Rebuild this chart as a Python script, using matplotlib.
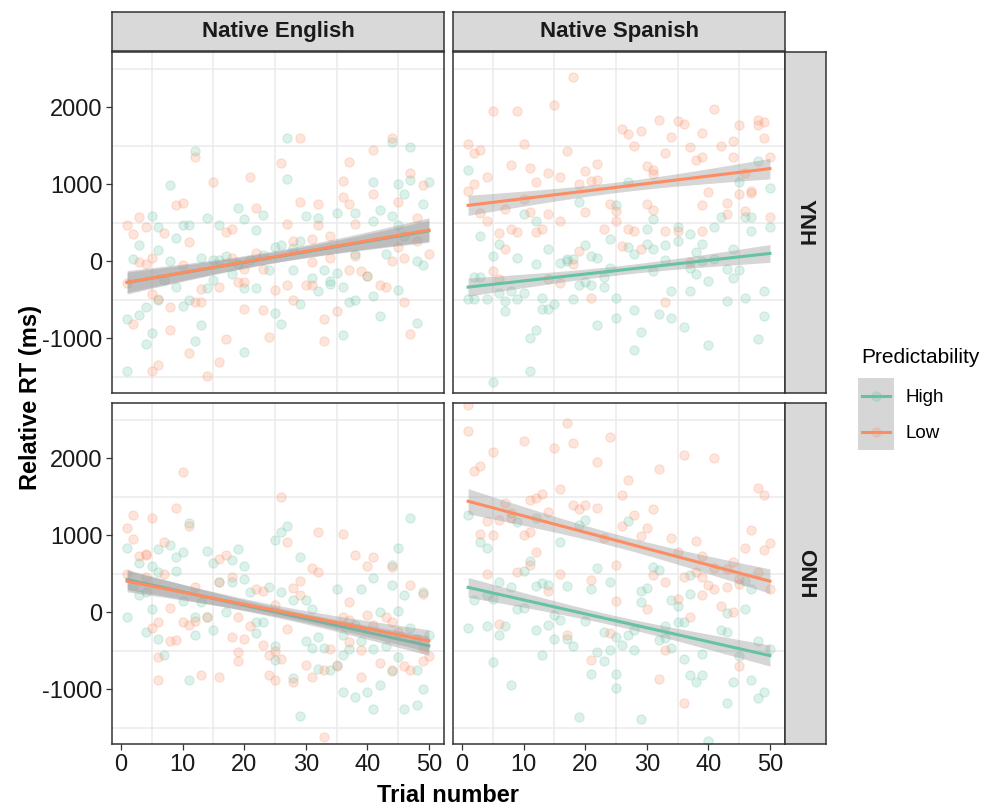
import numpy as np
import matplotlib
matplotlib.use("Agg")
import matplotlib.pyplot as plt

plt.rcParams['font.family'] = 'Liberation Sans'
plt.rcParams['axes.unicode_minus'] = False

# ---- data (trial, relative RT in ms) ----
columns = ['Native English', 'Native Spanish']
rows = ['YNH', 'ONH']
conditions = ['High', 'Low']
colors = {'High': '#66C2A5', 'Low': '#FC8D62'}

en_ynh_high_t = [12, 8, 5, 6, 10, 11, 14, 19, 20, 23, 22, 16, 3, 6, 9, 2, 8, 13, 15, 16, 17, 19, 25, 26, 21, 23, 24, 18,
                 15, 14, 9, 7, 6, 11, 10, 4, 3, 1, 5, 4, 13, 12, 20, 25, 26, 22, 20, 1,
                 27, 44, 47, 27, 41, 45, 47, 50, 46, 49, 30, 32, 35, 38, 42, 41, 44, 45, 29, 28, 46, 43, 48, 49, 38,
                 33, 35, 28, 31, 34, 34, 32, 36, 40, 45, 41, 38, 37, 29, 42, 48, 36]
en_ynh_high_rt = [1430, 990, 590, 445, 467, 467, 566, 688, 545, 605, 402, 471, 207, 142, 307, 25, 3, 42, 12, 12, 68, -31,
                  185, 207, 21, 77, -118, -161, -239, -352, -334, -248, -508, -508, -577, -594, -694, -750, -932,
                  -1070, -832, -1036, -1179, -672, -819, -352, -352, -1430,
                  1601, 1545, 1484, 1069, 1025, 1008, 1051, 1025, 869, 748, 588, 566, 627, 627, 670, 523, 588, 467,
                  263, 172, 333, 90, 3, -53, 90, -109, -152, -109, -213, -291, -256, -391, -334, -196, -369, -456,
                  -508, -529, -551, -711, -798, -953]

en_ynh_low_t = [12, 15, 21, 26, 9, 10, 3, 1, 4, 2, 7, 11, 17, 18, 22, 3, 4, 5, 10, 18, 22, 1, 5, 6, 8, 12, 13, 13, 16,
                19, 20, 25, 20, 23, 2, 8, 17, 24, 11, 16, 14, 6, 5, 23, 20,
                29, 44, 41, 37, 36, 47, 49, 41, 36, 37, 29, 32, 45, 48, 27, 32, 38, 34, 31, 28, 48, 50, 45, 46, 44,
                34, 38, 31, 39, 40, 37, 30, 31, 27, 42, 43, 28, 46, 35, 33, 33, 47]
en_ynh_low_rt = [1360, 1030, 1100, 1280, 730, 760, 570, 470, 450, 350, 370, 250, 380, 420, 690, -10, -30, 50, -50, 50,
                 110, -280, -430, -490, -590, -530, -530, -360, -330, -270, -270, -370, -620, -630, -820, -890,
                 -1010, -980, -1190, -1310, -1490, -1350, -1430, -100, -100,
                 1600, 1600, 1450, 1290, 1050, 1150, 990, 870, 830, 750, 770, 750, 770, 560, 490, 470, 490, 330, 290,
                 260, 260, 90, 190, 50, 0, 50, 70, -10, -120, -190, -110, -310, -310, -310, -310, -330, -500, -530,
                 -650, -750, -1040, -950]

es_ynh_high_t = [1, 10, 12, 19, 25, 3, 6, 5, 9, 12, 14, 16, 17, 17, 18, 20, 21, 22, 24, 24, 23, 23, 2, 3, 1, 2, 4, 6,
                 7, 8, 9, 10, 7, 13, 13, 14, 15, 18, 19, 20, 21, 11, 12, 22, 25, 25, 11, 5,
                 48, 27, 45, 50, 31, 30, 35, 37, 41, 42, 46, 47, 47, 50, 27, 28, 30, 31, 33, 35, 39, 38, 39, 41, 44,
                 33, 31, 37, 38, 40, 43, 44, 45, 34, 37, 43, 46, 49, 28, 32, 34, 49, 29, 36, 28, 40, 48]
es_ynh_high_rt = [1190, 610, 520, 770, 730, 330, 220, 70, 50, -30, 160, -20, 0, 30, 30, 210, 70, 50, 290, -80, -200,
                  -330, -200, -200, -490, -490, -490, -410, -510, -380, -490, -410, -650, -470, -620, -620, -550,
                  -490, -310, -270, -310, -990, -890, -830, -730, -470, -1420, -1570,
                  1310, 1030, 1030, 950, 550, 420, 450, 350, 450, 570, 580, 570, 400, 450, 190, 90, 230, 160, 210,
                  260, 230, 120, 10, 30, 160, 20, -130, -80, -170, -250, -100, -210, -110, -380, -390, -520, -470,
                  -390, -630, -690, -730, -710, -920, -850, -1150, -1090, -1010]

es_ynh_low_t = [18, 5, 9, 15, 26, 1, 2, 3, 10, 17, 8, 11, 14, 16, 4, 2, 1, 12, 20, 22, 21, 22, 19, 10, 11, 7, 3, 4,
                14, 16, 20, 24, 25, 25, 6, 8, 9, 12, 13, 7, 23, 26, 19, 18, 5, 6, 14, 16, 21,
                41, 32, 35, 36, 48, 48, 49, 27, 29, 28, 34, 39, 45, 49, 37, 42, 44, 33, 38, 39, 44, 50, 30, 31, 31,
                46, 40, 45, 47, 47, 30, 31, 39, 43, 43, 46, 50, 27, 28, 33, 35, 39, 29, 37, 33]
es_ynh_low_rt = [2400, 1950, 1950, 2030, 1720, 1530, 1410, 1450, 1530, 1430, 1250, 1210, 1150, 1090, 1090, 1010, 910,
                 1030, 1170, 1270, 1050, 1060, 1010, 810, 640, 680, 630, 520, 610, 520, 640, 750, 660, 520, 370, 420,
                 380, 380, 420, 160, 420, 200, 140, -30, -130, -230, -230, -280, -470,
                 1980, 1840, 1830, 1790, 1840, 1770, 1810, 1650, 1700, 1500, 1620, 1670, 1770, 1600, 1480, 1500,
                 1560, 1410, 1320, 1350, 1350, 1360, 1240, 1190, 1130, 1150, 900, 870, 910, 890, 740, 670, 730, 760,
                 610, 650, 570, 420, 400, 400, 400, 400, 160, -10, -530]

en_onh_high_t = [1, 11, 6, 8, 9, 10, 3, 5, 9, 14, 15, 18, 19, 20, 20, 16, 18, 21, 24, 25, 26, 1, 2, 3, 4, 6, 5, 10, 12,
                 13, 14, 17, 4, 6, 12, 15, 22, 23, 22, 7, 11, 25, 25,
                 27, 26, 47, 29, 45, 44, 41, 44, 28, 30, 35, 39, 46, 49, 31, 42, 45, 47, 50, 36, 38, 30, 31, 32, 33,
                 37, 36, 39, 41, 43, 45, 48, 49, 32, 34, 35, 44, 28, 36, 38, 40, 42, 41, 46, 48, 29]
en_onh_high_rt = [840, 1160, 820, 870, 720, 780, 640, 600, 540, 800, 640, 680, 820, 600, 440, 390, 390, 260, 330, 940,
                  260, -60, 340, 220, 260, 520, 40, 150, -60, 130, -60, 0, -260, -340, -300, -230, -130, -130, -270,
                  -560, -880, -620, -440,
                  1120, 1040, 1220, 720, 830, 620, 450, 360, 160, 160, 310, 300, 230, 260, 40, 10, 20, -200, -300,
                  -290, -160, -370, -460, -320, -460, -480, -560, -370, -480, -440, -580, -750, -1000, -740, -750,
                  -680, -760, -850, -1040, -1100, -1040, -940, -1260, -1260, -1200, -1340]

en_onh_low_t = [10, 9, 2, 5, 1, 2, 11, 26, 3, 4, 4, 7, 7, 1, 4, 17, 16, 18, 16, 12, 22, 23, 25, 8, 14, 19, 21, 6, 5,
                10, 11, 12, 8, 9, 18, 20, 23, 24, 19, 19, 25, 6, 6, 13, 16, 24, 25,
                27, 32, 36, 38, 41, 40, 44, 31, 32, 29, 28, 29, 47, 49, 37, 40, 36, 37, 43, 44, 41, 27, 37, 39, 45,
                48, 49, 50, 49, 34, 26, 30, 35, 33, 42, 44, 46, 47, 31, 28, 39, 33]
en_onh_low_rt = [1820, 1360, 1260, 1220, 1090, 950, 1120, 1500, 730, 750, 760, 910, 500, 500, 460, 750, 690, 460, 390,
                 330, 300, 280, 100, 60, -60, -60, -180, -130, -200, -130, -170, -110, -370, -360, -320, -340, -420,
                 -550, -520, -630, -500, -580, -880, -810, -840, -810, -880,
                 910, 1040, 1020, 750, 720, 600, 590, 570, 520, 410, 320, 230, 360, 240, 130, -40, -60, -100, -60,
                 -130, -170, -220, -390, -490, -260, -340, -460, -570, -630, -480, -600, -680, -700, -750, -660,
                 -750, -700, -750, -840, -910, -840, -1620]

es_onh_high_t = [1, 3, 4, 9, 12, 16, 19, 20, 11, 10, 22, 24, 21, 12, 13, 14, 17, 6, 8, 4, 5, 2, 9, 10, 15, 16, 20, 14,
                 15, 17, 12, 18, 23, 25, 24, 1, 4, 7, 6, 13, 22, 23, 5, 21, 25, 25, 8, 19,
                 27, 31, 32, 37, 29, 30, 29, 34, 35, 37, 46, 47, 46, 43, 35, 36, 42, 43, 33, 32, 33, 34, 27, 28, 26,
                 28, 48, 50, 39, 45, 36, 37, 39, 38, 44, 47, 43, 48, 49, 29, 40]
es_onh_high_rt = [1260, 910, 840, 1180, 1220, 920, 1130, 1200, 670, 540, 580, 400, 300, 340, 380, 360, 340, 390, 330,
                  230, 170, 160, 40, 60, -30, -100, -110, -160, -340, -340, -230, -440, -260, -320, -490, -200, -180,
                  -180, -300, -560, -510, -630, -650, -800, -800, -980, -940, -1360,
                  1190, 590, 550, 490, 280, 320, 130, 160, 80, 240, 410, 310, 40, -10, -120, -130, -230, -260, -180,
                  -360, -330, -460, -300, -230, -420, -490, -370, -470, -540, -570, -610, -820, -820, -900, -900,
                  -880, -1180, -1110, -1040, -1380, -1670]

es_onh_low_t = [1, 1, 17, 10, 15, 18, 24, 5, 22, 2, 3, 16, 13, 12, 11, 7, 18, 19, 20, 22, 14, 8, 8, 6, 4, 3, 5, 10,
                11, 12, 23, 25, 11, 4, 9, 16, 21, 14, 25, 6, 17, 24, 21,
                36, 41, 32, 27, 26, 48, 49, 28, 31, 26, 30, 29, 47, 34, 35, 38, 46, 50, 49, 39, 41, 43, 44, 31, 33,
                36, 38, 39, 40, 41, 39, 43, 45, 45, 48, 50, 30, 35, 42, 44, 37, 33, 45, 32, 36]
es_onh_low_rt = [2690, 2360, 2460, 2220, 2140, 2200, 2280, 2080, 1960, 1840, 1900, 1600, 1540, 1480, 1460, 1420, 1400,
                 1340, 1400, 1360, 1310, 1290, 1220, 1200, 1190, 1020, 1000, 1000, 1040, 780, 960, 620, 620, 500, 520,
                 500, 420, 280, 150, -150, -300, -270, -620,
                 2040, 2000, 1860, 1720, 1520, 1620, 1520, 1260, 1340, 1120, 1090, 990, 1070, 960, 780, 930, 840,
                 900, 810, 730, 580, 560, 650, 490, 400, 460, 520, 460, 360, 300, 230, 330, 440, 370, 520, 300, 40,
                 180, 80, 10, -60, -490, -700, -860, -1180]

panel_data = {
    ('YNH', 'Native English'): {'High': (en_ynh_high_t, en_ynh_high_rt), 'Low': (en_ynh_low_t, en_ynh_low_rt)},
    ('YNH', 'Native Spanish'): {'High': (es_ynh_high_t, es_ynh_high_rt), 'Low': (es_ynh_low_t, es_ynh_low_rt)},
    ('ONH', 'Native English'): {'High': (en_onh_high_t, en_onh_high_rt), 'Low': (en_onh_low_t, en_onh_low_rt)},
    ('ONH', 'Native Spanish'): {'High': (es_onh_high_t, es_onh_high_rt), 'Low': (es_onh_low_t, es_onh_low_rt)},
}

# the original has many overlapping points, so its band is narrower than
# what the read-off points give; scale the standard error to match
BAND_MULT = 1.05


def lm_band(x, y):
    # linear fit with a standard-error band, like geom_smooth(method = "lm")
    x = np.asarray(x, float)
    y = np.asarray(y, float)
    b, a = np.polyfit(x, y, 1)
    xs = np.linspace(x.min(), x.max(), 80)
    yhat = a + b * xs
    n = len(x)
    s = np.sqrt(np.sum((y - (a + b * x)) ** 2) / (n - 2))
    se = s * np.sqrt(1 / n + (xs - x.mean()) ** 2 / np.sum((x - x.mean()) ** 2))
    return xs, yhat, yhat - BAND_MULT * se, yhat + BAND_MULT * se


W, H = 988, 808
fig = plt.figure(figsize=(W / 100, H / 100), dpi=100)

col_x = [112, 453]
row_y = [52, 403]
pw, ph = 332, 341

for i, r in enumerate(rows):
    for j, c in enumerate(columns):
        left, top = col_x[j], row_y[i]
        ax = fig.add_axes([left / W, 1 - (top + ph) / H, pw / W, ph / H])
        ax.set_xlim(-1.45, 52.45)
        ax.set_ylim(-1710, 2720)
        for v in [5, 15, 25, 35, 45]:
            ax.axvline(v, color='#EBEBEB', lw=1.1, zorder=0)
        for v in [-1500, -500, 500, 1500, 2500]:
            ax.axhline(v, color='#EBEBEB', lw=1.1, zorder=0)
        d = panel_data[(r, c)]
        for cond in conditions:
            t, rt = d[cond]
            ax.scatter(t, rt, s=44, color=colors[cond], alpha=0.22, linewidths=0.9, zorder=2)
        for cond in conditions:
            t, rt = d[cond]
            xs, yh, lo, hi = lm_band(t, rt)
            ax.fill_between(xs, lo, hi, color='#999999', alpha=0.4, lw=0, zorder=3)
            ax.plot(xs, yh, color=colors[cond], lw=2.2, zorder=3)
        ax.set_xticks([0, 10, 20, 30, 40, 50])
        ax.set_yticks([-1000, 0, 1000, 2000])
        ax.tick_params(length=4, width=0.9, color='#333333', labelsize=17, labelcolor='#1A1A1A', pad=3)
        if j > 0:
            ax.tick_params(axis='y', left=False, labelleft=False)
        if i == 0:
            ax.tick_params(axis='x', bottom=False, labelbottom=False)
        for sp in ax.spines.values():
            sp.set_color('#333333')
            sp.set_linewidth(1.1)

        if i == 0:
            sax = fig.add_axes([left / W, 1 - 51 / H, pw / W, 39 / H])
            sax.set_facecolor('#D9D9D9')
            sax.set_xticks([])
            sax.set_yticks([])
            for sp in sax.spines.values():
                sp.set_color('#333333')
                sp.set_linewidth(1.1)
            sax.text(0.5, 0.5, c, ha='center', va='center', fontsize=16, fontweight='bold',
                     color='#1A1A1A', transform=sax.transAxes)
        if j == 1:
            sax = fig.add_axes([785 / W, 1 - (top + ph) / H, 41 / W, ph / H])
            sax.set_facecolor('#D9D9D9')
            sax.set_xticks([])
            sax.set_yticks([])
            for sp in sax.spines.values():
                sp.set_color('#333333')
                sp.set_linewidth(1.1)
            sax.text(0.5, 0.5, r, ha='center', va='center', fontsize=16, fontweight='bold',
                     rotation=-90, color='#1A1A1A', transform=sax.transAxes)

fig.text(30 / W, 1 - 397 / H, 'Relative RT (ms)', rotation=90, ha='center', va='center',
         fontsize=17, fontweight='bold')
fig.text(448 / W, 1 - 795 / H, 'Trial number', ha='center', va='center', fontsize=17, fontweight='bold')

# legend
fig.text(861 / W, 1 - 358 / H, 'Predictability', ha='left', va='center', fontsize=15)
lax = fig.add_axes([858 / W, 1 - 450 / H, 36 / W, 72 / H])
lax.set_facecolor('#D6D6D6')
lax.set_xlim(0, 1)
lax.set_ylim(0, 2)
lax.set_xticks([])
lax.set_yticks([])
for sp in lax.spines.values():
    sp.set_visible(False)
for k, cond in enumerate(conditions):
    yk = 1.5 - k
    lax.plot([0.1, 0.9], [yk, yk], color=colors[cond], lw=2.2)
    lax.scatter([0.5], [yk], s=44, color=colors[cond], alpha=0.22, linewidths=0.9)
    fig.text(905 / W, 1 - (397 + 36 * k) / H, cond, ha='left', va='center', fontsize=13.5)

fig.savefig('out.png', dpi=100)
